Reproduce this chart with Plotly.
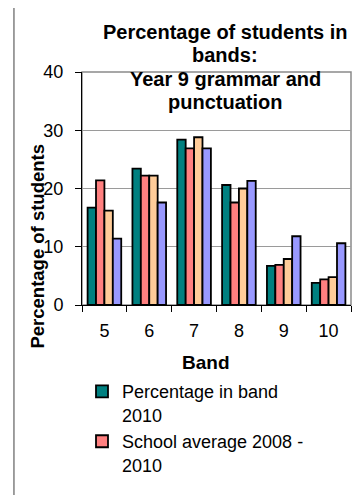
import plotly.graph_objects as go

bands = ["5", "6", "7", "8", "9", "10"]
pct_band_2010 = [16.7, 23.4, 28.4, 20.6, 6.7, 3.8]
school_avg_2008_2010 = [21.4, 22.2, 26.9, 17.6, 6.9, 4.4]
series3 = [16.2, 22.2, 28.8, 20.0, 7.9, 4.8]
series4 = [11.4, 17.6, 26.9, 21.3, 11.8, 10.6]

names = ["Percentage in band<br>2010", "School average 2008 -<br>2010",
         "State average 2010", "State average 2008 - 2010"]
colors = ["#008080", "#FF8080", "#FFCC99", "#9999FF"]
series = [pct_band_2010, school_avg_2008_2010, series3, series4]
show = [True, True, False, False]

title_lines = ["Percentage of students in", "bands:", "Year 9 grammar and", "punctuation"]
title_y = [1.2296, 1.1309, 1.0249, 0.9279]

FONT = "Liberation Sans, Arial, sans-serif"

fig = go.Figure()
for n, c, s, sh in zip(names, colors, series, show):
    fig.add_trace(go.Bar(x=bands, y=s, name=n, showlegend=sh,
                         marker=dict(color=c, line=dict(color="black", width=1.8))))

annotations = [
    dict(text=f"<b>{t}</b>", xref="paper", yref="paper", x=0.532, y=yy,
         xanchor="center", yanchor="top", showarrow=False,
         font=dict(size=20, family=FONT))
    for t, yy in zip(title_lines, title_y)
]
annotations += [
    dict(text="<b>Band</b>", xref="paper", yref="paper", x=0.461, y=-0.245,
         xanchor="center", yanchor="middle", showarrow=False,
         font=dict(size=19, family=FONT)),
    dict(text="<b>Percentage of students</b>", xref="paper", yref="paper",
         x=-0.1636, y=0.255, xanchor="center", yanchor="middle", textangle=-90,
         showarrow=False, font=dict(size=18.5, family=FONT)),
]

fig.update_layout(
    width=354, height=487, autosize=False,
    margin=dict(l=74, r=11, t=64, b=190),
    paper_bgcolor="white", plot_bgcolor="white",
    font=dict(family=FONT, size=18, color="black"),
    barmode="group", bargap=0.25, bargroupgap=0,
    showlegend=True,
    legend=dict(x=0.0, xanchor="left", y=-0.293, yanchor="top",
                valign="top", font=dict(size=18), bgcolor="rgba(0,0,0,0)",
                tracegroupgap=0),
    xaxis=dict(type="category", showline=True, linecolor="black", linewidth=1,
               ticks="outside", tickson="boundaries", ticklen=6, tickcolor="black",
               showgrid=False, ticklabelstandoff=9, automargin=False),
    yaxis=dict(range=[0, 40], tickvals=[0, 10, 20, 30, 40], showline=True,
               linecolor="black", linewidth=1, ticks="outside", ticklen=6,
               tickcolor="black", showgrid=True, gridcolor="#9a9a9a", gridwidth=1,
               zeroline=False, ticklabelstandoff=8, automargin=False),
    shapes=[
        dict(type="rect", xref="paper", yref="paper", x0=0, x1=1, y0=0, y1=1,
             line=dict(color="#8a8a8a", width=1.5), layer="below"),
        dict(type="rect", xref="paper", yref="paper", x0=-0.253, x1=1.1,
             y0=-0.95, y1=1.283, line=dict(color="#808080", width=1.5), layer="below"),
    ],
    annotations=annotations,
)

fig.write_html("out.html")
